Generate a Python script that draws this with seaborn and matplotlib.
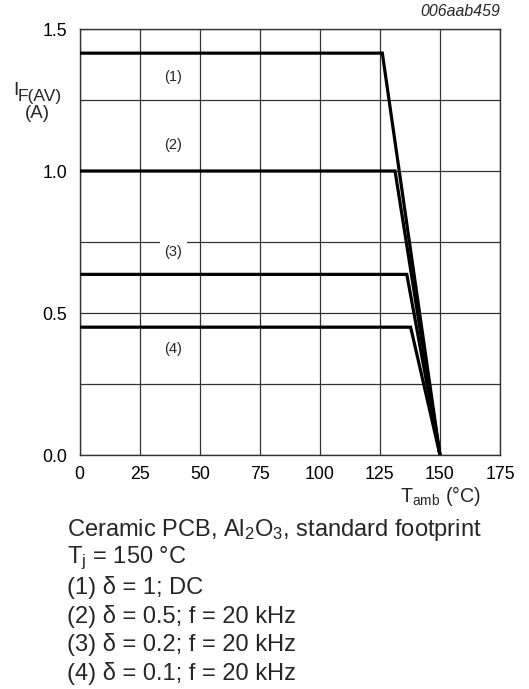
import matplotlib
matplotlib.use("Agg")
import matplotlib.pyplot as plt
import seaborn as sns
import pandas as pd
from matplotlib.ticker import MultipleLocator, FixedLocator

# ---- data ----
series = ["(1)", "(2)", "(3)", "(4)"]
levels = [1.415, 1.0, 0.636, 0.45]          # I_F(AV) plateau (A)
knees = [126.0, 131.3, 136.2, 137.8]        # T_amb where derating starts (°C)
t_start = 0.0
t_end = 150.0
label_x = [39, 39, 39, 39]
label_y = [1.33, 1.09, 0.716, 0.372]

caption_lines = [
    r"Ceramic PCB, Al$_\mathregular{2}$O$_\mathregular{3}$, standard footprint",
    r"T$_\mathregular{j}$ = 150 °C",
    "(1) δ = 1; DC",
    "(2) δ = 0.5; f = 20 kHz",
    "(3) δ = 0.2; f = 20 kHz",
    "(4) δ = 0.1; f = 20 kHz",
]

rows = []
for s, lv, k in zip(series, levels, knees):
    rows += [(s, t_start, lv), (s, k, lv), (s, t_end, 0.0)]
df = pd.DataFrame(rows, columns=["series", "tamb", "ifav"])

sns.set_theme(style="white")
plt.rcParams["font.family"] = ["Liberation Sans", "DejaVu Sans"]
plt.rcParams["mathtext.fontset"] = "custom"
plt.rcParams["mathtext.rm"] = "Liberation Sans"
plt.rcParams["mathtext.it"] = "Liberation Sans:italic"

W, H = 529, 689
fig = plt.figure(figsize=(W / 100, H / 100), dpi=100)
ax = fig.add_axes([79.7 / W, 1 - 455 / H, (500 - 79.7) / W, (455 - 29) / H])

sns.lineplot(data=df, x="tamb", y="ifav", hue="series",
             palette=["black"] * 4, sort=False, legend=False,
             linewidth=2.3, ax=ax, zorder=3)
for line in ax.lines:
    line.set_solid_joinstyle("miter")
    line.set_solid_capstyle("butt")

ax.set_xlim(0, 175)
ax.set_ylim(0, 1.5)
ax.xaxis.set_major_locator(MultipleLocator(25))
ax.yaxis.set_major_locator(FixedLocator([0, 0.5, 1.0, 1.5]))
ax.yaxis.set_minor_locator(FixedLocator([0.25, 0.75, 1.25]))
ax.yaxis.set_major_formatter(matplotlib.ticker.FormatStrFormatter("%.1f"))
ax.grid(True, which="both", color="#333333", linewidth=0.9)
ax.set_axisbelow(True)
ax.tick_params(axis="both", which="both", length=0, labelsize=12.8, colors="black")
ax.tick_params(axis="y", pad=9)
ax.tick_params(axis="x", pad=8)
for sp in ax.spines.values():
    sp.set_visible(True)
    sp.set_color("#333333")
    sp.set_linewidth(1.0)
ax.set_xlabel("")
ax.set_ylabel("")

for s, lx, ly in zip(series, label_x, label_y):
    bb = dict(facecolor="white", edgecolor="none", pad=3.5) if s == "(3)" else None
    ax.text(lx, ly, s, ha="center", va="center", fontsize=10.5, bbox=bb, zorder=4)

fig.text(500 / W, 1 - 12 / H, "006aab459", ha="right", va="center",
         fontsize=11.4, style="italic")
# y-axis label: I with subscript F(AV), then (A)
fig.text(13 / W, 1 - 95 / H, "I", ha="left", va="baseline", fontsize=14)
fig.text(18 / W, 1 - 101 / H, "F(AV)", ha="left", va="baseline", fontsize=12.5)
fig.text(37 / W, 1 - 118 / H, "(A)", ha="center", va="baseline", fontsize=13.5)
fig.text(481 / W, 1 - 496 / H, r"T$_\mathregular{amb}$ (°C)", ha="right", va="center", fontsize=14.2)

y0 = 530
for i, t in enumerate(caption_lines):
    fig.text(67 / W, 1 - (y0 + i * 28.7) / H, t, ha="left", va="center", fontsize=17)

fig.savefig("out.png", dpi=100)
